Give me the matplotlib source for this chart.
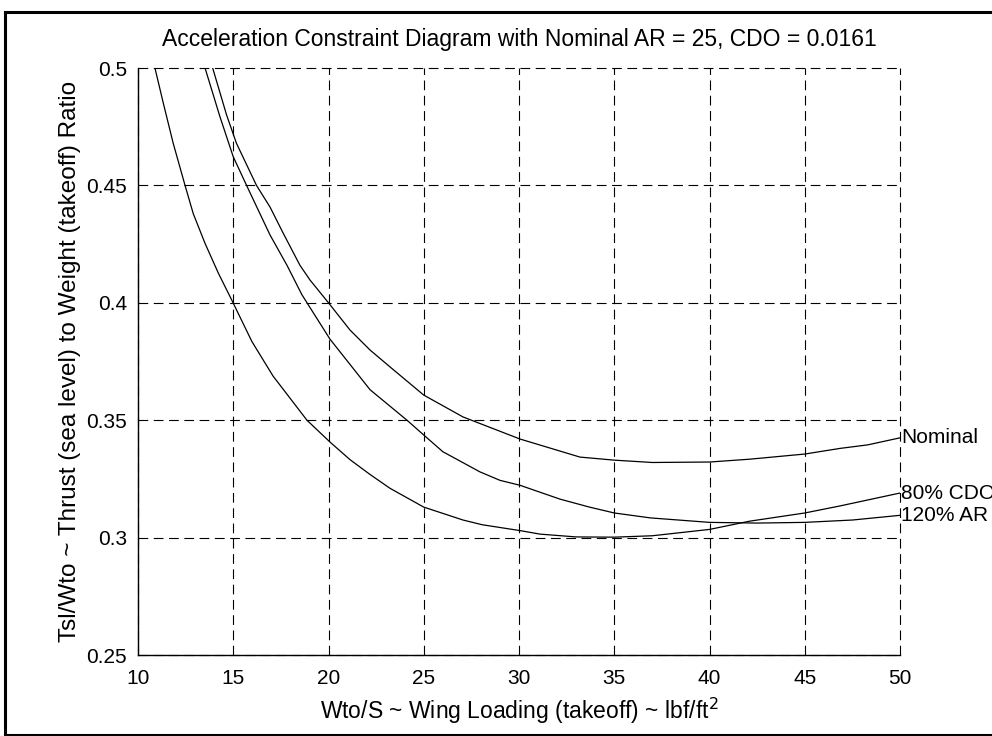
import matplotlib
matplotlib.use('Agg')
import matplotlib.pyplot as plt
from matplotlib.lines import Line2D

plt.rcParams['font.family'] = ['Liberation Sans', 'DejaVu Sans']
plt.rcParams['lines.scale_dashes'] = False

# wing loading (lbf/ft^2) and thrust-to-weight
x_nominal = [13.92, 14.65, 15.17, 16.22, 16.93, 17.6, 18.5, 19.03, 20.0, 21.13, 22.18, 23.23, 25.0,
             27.06, 30.05, 33.2, 35.0, 37.0, 40.0, 42.1, 45.0, 46.85, 48.3, 50.0]
y_nominal = [0.5, 0.48, 0.4679, 0.45, 0.4408, 0.43, 0.416, 0.4097, 0.4, 0.3884, 0.3799, 0.3727, 0.3607,
             0.3514, 0.342, 0.3343, 0.333, 0.332, 0.3322, 0.3334, 0.3356, 0.338, 0.3395, 0.3425]

x_cdo = [10.89, 11.33, 11.85, 12.47, 12.9, 13.52, 14.22, 14.92, 15.98, 17.09, 18.87, 20.08, 21.13,
         22.18, 23.23, 25.0, 27.06, 28.06, 30.05, 31.1, 33.0, 35.0, 37.0, 40.0, 42.1, 45.0, 46.85, 50.0]
y_cdo = [0.5, 0.485, 0.4679, 0.45, 0.438, 0.4253, 0.4126, 0.4012, 0.3835, 0.3688, 0.35, 0.3407, 0.3332,
         0.3269, 0.321, 0.313, 0.3075, 0.3055, 0.303, 0.3015, 0.3003, 0.3002, 0.3008, 0.3035, 0.307,
         0.3105, 0.3135, 0.319]

x_ar = [13.52, 14.3, 15.0, 15.7, 16.93, 17.82, 18.6, 20.08, 22.18, 24.12, 25.0, 26.0, 27.95, 29.0,
        30.05, 32.15, 33.7, 35.0, 36.9, 40.0, 42.5, 45.0, 47.5, 50.0]
y_ar = [0.5, 0.4793, 0.4622, 0.45, 0.4289, 0.416, 0.4035, 0.3845, 0.363, 0.35, 0.3437, 0.3366, 0.328,
        0.3244, 0.3223, 0.3164, 0.313, 0.3105, 0.3084, 0.3065, 0.3062, 0.3065, 0.3075, 0.3095]

series = [('Nominal', x_nominal, y_nominal),
          ('80% CDO', x_cdo, y_cdo),
          ('120% AR', x_ar, y_ar)]

fig = plt.figure(figsize=(9.92, 7.36), dpi=100)
ax = fig.add_axes([0.1391, 0.110, 0.7682, 0.7976])

for name, xs, ys in series:
    ax.plot(xs, ys, color='black', lw=0.9)
    # label at the right end of each curve
    ax.text(xs[-1] + 0.05, ys[-1], name, ha='left', va='center', fontsize=15, clip_on=False)

ax.set_xlim(10, 50)
ax.set_ylim(0.25, 0.5)
ax.set_xticks(range(10, 51, 5))
ax.set_yticks([0.25, 0.3, 0.35, 0.4, 0.45, 0.5])
ax.set_yticklabels(['0.25', '0.3', '0.35', '0.4', '0.45', '0.5'])
ax.tick_params(direction='in', length=0, labelsize=15, pad=8)
ax.tick_params(axis='x', pad=10)

ax.grid(True, color='black', lw=0.8, linestyle=(0, (7, 4)))
for gl in ax.get_xgridlines() + ax.get_ygridlines():
    gl.set_clip_on(False)

for side in ['top', 'right']:
    ax.spines[side].set_visible(False)
for side in ['left', 'bottom']:
    ax.spines[side].set_linewidth(1.0)

ax.set_title('Acceleration Constraint Diagram with Nominal AR = 25, CDO = 0.0161',
             fontsize=16.5, pad=16)
ax.set_xlabel('Wto/S ~ Wing Loading (takeoff) ~ lbf/ft$^2$', fontsize=16.5, labelpad=6)
ax.set_ylabel('Tsl/Wto ~ Thrust (sea level) to Weight (takeoff) Ratio', fontsize=17.5, labelpad=4)

# page frame around the figure (right edge falls off the scan)
y_top = 1 - 12 / 736
y_bot = 1 - 735 / 736
x_left = 5 / 992
fig.add_artist(Line2D([x_left, 1.0], [y_top, y_top], color='black', lw=2.2))
fig.add_artist(Line2D([x_left, 1.0], [y_bot, y_bot], color='black', lw=2.2))
fig.add_artist(Line2D([x_left, x_left], [y_bot, y_top], color='black', lw=2.2))

fig.savefig('out.png', dpi=100)
